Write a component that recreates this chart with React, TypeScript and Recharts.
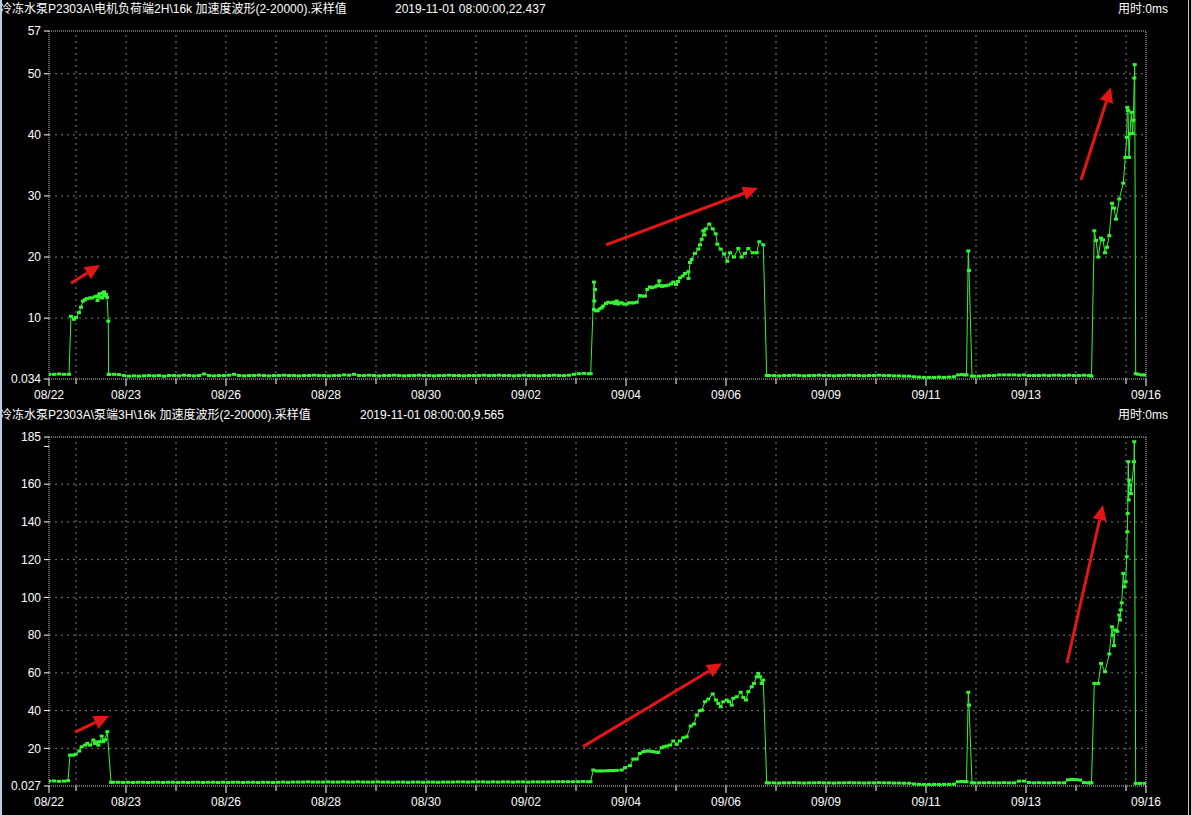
import { LineChart, Line, XAxis, YAxis, ReferenceLine } from 'recharts'

type Pt = [number, number]

// x = sample position along the trend axis (0 = start 08/22, 1097 = end 09/16)
const xLabelTicks = [0, 77, 177, 277, 377, 477, 577, 677, 777, 877, 977, 1097]
const xLabels = ['08/22', '08/23', '08/26', '08/28', '08/30', '09/02', '09/04', '09/06', '09/09', '09/11', '09/13', '09/16']
const xMinorTicks = [27, 127, 227, 327, 427, 527, 627, 727, 827, 927, 1027, 1077]

// ---- top: 电机负荷端2H
const motorYTicks = [0.034, 10, 20, 30, 40, 50, 57]
const motorGrid = [10, 20, 30, 40, 50]

const motorQuietA: Pt[] = [[0, 0.8], [5, 0.8], [10, 0.85], [15, 0.8], [20, 0.8]]
const motorRiseA: Pt[] = [
  [22, 10.3], [25, 9.8], [27, 10.1], [30, 10.9], [32, 11.8], [34, 12.8], [36, 13.0], [38, 13.2],
  [41, 13.3], [43, 13.3], [46, 13.5], [48, 13.6], [48.5, 12.9], [50, 13.8], [51, 14.0], [52, 13.4],
  [53, 13.3], [54, 14.1], [55, 14.3], [56, 13.7], [57, 13.9], [58, 13.4], [59.3, 9.5], [59.6, 0.8],
]
const motorQuietB: Pt[] = [
  [60, 0.8], [65, 0.8], [70, 0.75], [75, 0.6], [80, 0.5], [85, 0.55], [90, 0.5], [95, 0.55],
  [100, 0.6], [105, 0.55], [110, 0.6], [115, 0.5], [120, 0.6], [125, 0.6], [130, 0.55], [135, 0.65],
  [140, 0.6], [145, 0.55], [150, 0.6], [155, 0.85], [160, 0.6], [165, 0.55], [170, 0.6], [175, 0.6],
  [180, 0.65], [185, 0.8], [190, 0.6], [195, 0.55], [200, 0.6], [205, 0.6], [210, 0.65], [215, 0.6],
  [220, 0.55], [225, 0.6], [230, 0.6], [235, 0.65], [240, 0.6], [245, 0.6], [250, 0.55], [255, 0.6],
  [260, 0.6], [265, 0.65], [270, 0.6], [275, 0.6], [280, 0.55], [285, 0.6], [290, 0.6], [295, 0.7],
  [300, 0.65], [305, 0.8], [310, 0.6], [315, 0.6], [320, 0.65], [325, 0.6], [330, 0.55], [335, 0.6],
  [340, 0.6], [345, 0.65], [350, 0.6], [355, 0.55], [360, 0.6], [365, 0.6], [370, 0.65], [375, 0.6],
  [380, 0.6], [385, 0.55], [390, 0.6], [395, 0.6], [400, 0.65], [405, 0.6], [410, 0.6], [415, 0.55],
  [420, 0.6], [425, 0.6], [430, 0.6], [435, 0.65], [440, 0.6], [445, 0.6], [450, 0.65], [455, 0.6],
  [460, 0.6], [465, 0.55], [470, 0.6], [475, 0.65], [480, 0.6], [485, 0.6], [490, 0.55], [495, 0.6],
  [500, 0.6], [505, 0.65], [510, 0.6], [515, 0.6], [520, 0.65], [525, 0.8], [530, 0.9], [535, 0.95],
  [540, 0.9],
]
const motorRiseB: Pt[] = [
  [541.7, 0.9], [545, 15.9], [546, 14.7], [545.3, 12.8], [545, 11.4], [547, 11.2], [548.7, 11.2],
  [550.5, 11.5], [552.7, 11.7], [554.3, 12.0], [557, 12.4], [559.3, 12.6], [562, 12.5], [564.3, 12.6],
  [566, 12.4], [567.7, 12.8], [569.3, 12.3], [571, 12.5], [572.7, 12.5], [575, 12.3], [577.7, 12.3],
  [580, 12.5], [582.7, 12.5], [585, 12.5], [587.7, 12.6], [591, 13.7], [593, 13.6], [596, 13.6],
  [598.3, 14.7], [601, 15.1], [603, 15.0], [606, 15.1], [608, 15.3], [610.3, 16.1], [611, 15.3],
  [613, 15.2], [615, 15.3], [617, 15.3], [619.3, 15.4], [622, 15.6], [624.3, 15.9], [627, 15.5],
  [629, 16.0], [631, 16.6], [633.7, 16.9], [636, 17.3], [639.3, 17.6], [639.5, 16.5], [641, 19.1],
  [642.7, 19.6], [646, 20.6], [649.3, 21.3], [651, 22.0], [652.7, 22.9], [654.3, 24.3], [655.5, 23.6],
  [656.7, 24.6], [660.3, 25.4], [663.7, 24.6], [666.7, 23.8], [668.3, 22.1], [671.7, 21.3], [675, 20.5],
  [678.3, 19.3], [681, 20.7], [685, 20.0], [689.3, 21.4], [692.7, 20.0], [696, 20.6], [699.3, 21.4],
  [703.7, 20.7], [707.7, 20.7], [710.3, 22.5], [714.3, 22.0], [717.7, 0.6],
]
const motorQuietC: Pt[] = [
  [720, 0.6], [725, 0.6], [730, 0.55], [735, 0.6], [740, 0.6], [745, 0.65], [750, 0.6], [755, 0.55],
  [760, 0.6], [765, 0.6], [770, 0.65], [775, 0.6], [780, 0.6], [785, 0.55], [790, 0.6], [795, 0.6],
  [800, 0.65], [805, 0.6], [810, 0.6], [815, 0.55], [820, 0.6], [825, 0.6], [830, 0.65], [835, 0.6],
  [840, 0.6], [845, 0.55], [850, 0.55], [855, 0.5], [860, 0.5], [865, 0.4], [870, 0.35], [875, 0.3],
  [880, 0.3], [885, 0.3], [890, 0.35], [895, 0.3], [900, 0.35], [905, 0.4], [909, 0.7], [913, 0.75],
  [915.5, 0.7],
]
const motorSpike: Pt[] = [[917.5, 0.7], [919.3, 21.0], [920, 17.8], [923, 0.5]]
const motorQuietD: Pt[] = [
  [925, 0.5], [930, 0.5], [935, 0.55], [940, 0.6], [945, 0.6], [950, 0.7], [955, 0.7], [960, 0.7],
  [965, 0.7], [970, 0.65], [975, 0.7], [980, 0.6], [985, 0.6], [990, 0.6], [995, 0.65], [1000, 0.6],
  [1005, 0.65], [1010, 0.65], [1015, 0.6], [1020, 0.65], [1025, 0.6], [1030, 0.6], [1035, 0.65],
  [1040, 0.6],
]
const motorRiseC: Pt[] = [
  [1042.5, 0.5], [1045.3, 24.3], [1047, 22.7], [1049.3, 20.0], [1052, 23.1], [1054, 22.8], [1056, 20.7],
  [1058, 21.6], [1060.3, 23.5], [1063, 28.8], [1065, 28.0], [1067, 26.2], [1070.3, 29.5], [1074.3, 32.1],
  [1076.3, 36.3], [1077.7, 39.6], [1078.3, 44.5], [1079, 44.0], [1080, 36.3], [1081, 40.2], [1082.3, 43.7],
  [1083.7, 40.2], [1084.3, 42.4], [1085.3, 49.3], [1085.7, 51.5], [1086.7, 0.9], [1089.3, 0.8],
  [1093, 0.7], [1096, 0.7],
]
// arrows: [x1, y1, x2, y2] in axis units
const motorArrows = [[22, 15.7, 51, 18.7], [557, 22.0, 709, 31.3], [1032, 32.6, 1062, 47.8]]

// ---- bottom: 泵端3H
const pumpYTicks = [0.027, 20, 40, 60, 80, 100, 120, 140, 160, 180, 185]
const pumpGrid = [20, 40, 60, 80, 100, 120, 140, 160]

const pumpQuietA: Pt[] = [[0, 2.6], [5, 2.7], [10, 2.5], [15, 2.6], [19, 2.8]]
const pumpRiseA: Pt[] = [
  [21, 16.4], [24.3, 16.4], [26.7, 16.9], [30.3, 18.6], [32.7, 20.8], [36, 21.7], [38.3, 22.6], [41, 21.7],
  [44.3, 24.4], [46, 22.6], [47.7, 23.4], [49.3, 21.7], [51, 23.5], [52.7, 26.5], [54.3, 23.5], [56, 24.5],
  [58.3, 28.8], [62, 2.0],
]
const pumpQuietB: Pt[] = [
  [64, 2.0], [69, 2.0], [74, 1.9], [79, 2.0], [84, 1.9], [89, 2.0], [94, 2.0], [99, 1.9], [104, 2.0],
  [109, 2.0], [114, 1.9], [119, 2.0], [124, 2.0], [129, 1.9], [134, 2.0], [139, 1.9], [144, 2.0],
  [149, 2.0], [154, 1.9], [159, 2.0], [164, 2.0], [169, 1.9], [174, 2.0], [179, 1.9], [184, 2.0],
  [189, 2.0], [194, 1.9], [199, 2.0], [204, 2.0], [209, 1.9], [214, 2.0], [219, 2.0], [224, 1.9],
  [229, 2.0], [234, 2.1], [239, 2.0], [244, 2.1], [249, 2.1], [254, 2.1], [259, 2.2], [264, 2.1],
  [269, 2.1], [274, 2.1], [279, 2.2], [284, 2.1], [289, 2.1], [294, 2.2], [299, 2.1], [304, 2.1],
  [309, 2.2], [314, 2.1], [319, 2.1], [324, 2.1], [329, 2.2], [334, 2.1], [339, 2.1], [344, 2.0],
  [349, 2.1], [354, 2.1], [359, 2.0], [364, 2.1], [369, 2.1], [374, 2.0], [379, 2.1], [384, 2.1],
  [389, 2.0], [394, 2.1], [399, 2.1], [404, 2.1], [409, 2.2], [414, 2.2], [419, 2.1], [424, 2.2],
  [429, 2.2], [434, 2.2], [439, 2.1], [444, 2.2], [449, 2.1], [454, 2.2], [459, 2.2], [464, 2.1],
  [469, 2.2], [474, 2.2], [479, 2.1], [484, 2.2], [489, 2.2], [494, 2.2], [499, 2.2], [504, 2.3],
  [509, 2.3], [514, 2.3], [519, 2.3], [524, 2.3], [529, 2.3], [534, 2.4], [539, 2.3], [541.5, 2.3],
]
const pumpRiseB: Pt[] = [
  [544.3, 8.5], [547.7, 8.0], [551, 8.0], [554, 8.0], [558, 8.1], [561, 8.2], [564, 8.2], [567.7, 8.3],
  [572.7, 8.5], [576, 9.7], [581, 10.8], [584.3, 14.3], [587.7, 14.3], [591, 17.3], [594.3, 18.2],
  [596.5, 18.5], [599.3, 18.6], [602, 18.4], [604.3, 18.2], [607, 18.0], [609.3, 17.8], [612.7, 20.3],
  [615, 20.8], [617.7, 21.2], [621, 21.7], [624.3, 23.9], [627.7, 22.1], [631, 23.9], [634.3, 25.6],
  [637.7, 26.1], [641.7, 31.8], [645, 32.9], [647.7, 37.6], [651, 39.9], [653, 40.2], [656, 44.7],
  [659.3, 46.1], [663.7, 48.8], [667, 45.6], [669.3, 43.8], [671.7, 42.0], [674.3, 44.7], [677.7, 45.6],
  [680, 44.7], [682.7, 42.9], [684.3, 46.5], [687.7, 47.3], [691.7, 49.7], [694.3, 47.0], [697, 45.6],
  [699.3, 50.0], [702.7, 52.6], [705, 54.4], [707.7, 57.9], [709.3, 59.7], [711, 57.9], [712.7, 54.4],
  [714.3, 56.2], [717.7, 1.7],
]
const pumpQuietC: Pt[] = [
  [720, 1.7], [725, 1.7], [730, 1.6], [735, 1.7], [740, 1.7], [745, 1.8], [750, 1.7], [755, 1.6],
  [760, 1.7], [765, 1.7], [770, 1.8], [775, 1.7], [780, 1.7], [785, 1.6], [790, 1.7], [795, 1.7],
  [800, 1.8], [805, 1.7], [810, 1.7], [815, 1.6], [820, 1.7], [825, 1.7], [830, 1.8], [835, 1.7],
  [840, 1.7], [845, 1.6], [850, 1.6], [855, 1.5], [860, 1.5], [865, 1.1], [870, 0.9], [875, 0.8],
  [880, 0.8], [885, 0.9], [890, 0.8], [895, 0.9], [900, 0.9], [905, 1.0], [909, 2.3], [913, 2.4],
  [915.5, 2.3],
]
const pumpSpike: Pt[] = [[917.5, 2.3], [919.3, 49.7], [920, 42.9], [923, 1.7]]
const pumpQuietD: Pt[] = [
  [925, 1.7], [930, 1.7], [935, 1.7], [940, 1.8], [945, 1.7], [950, 1.7], [955, 1.8], [960, 1.7],
  [965, 1.7], [970, 2.6], [975, 2.6], [980, 1.9], [985, 1.7], [990, 1.8], [995, 1.7], [1000, 1.7],
  [1005, 1.8], [1010, 1.7], [1015, 1.7], [1019, 3.3], [1023, 3.5], [1027, 3.4], [1031, 3.2],
  [1035, 1.8], [1039, 1.7], [1041, 1.7],
]
const pumpRiseC: Pt[] = [
  [1042.5, 1.7], [1045.3, 54.4], [1049.3, 54.4], [1052, 65.0], [1056, 60.6], [1060.3, 70.0], [1063, 84.4],
  [1063.7, 80.0], [1065, 74.4], [1066, 82.7], [1068.3, 82.0], [1070.3, 90.6], [1071, 88.0], [1071.7, 93.3],
  [1072.7, 97.1], [1074.3, 112.7], [1075.3, 105.6], [1076.7, 108.3], [1077.7, 121.5], [1078.3, 134.8],
  [1078.7, 144.5], [1079.3, 171.9], [1079.7, 151.6], [1080.3, 162.2], [1081, 159.5], [1082, 155.0],
  [1085, 171.9], [1085.3, 182.5], [1086.7, 1.4], [1091, 1.4], [1096, 1.4],
]
const pumpArrows = [[26, 28.6, 60, 37.1], [534, 20.9, 673, 65.1], [1018, 65.2, 1054, 148.9]]

const motorTitle = '冷冻水泵P2303A\\电机负荷端2H\\16k 加速度波形(2-20000).采样值'
const motorStamp = '2019-11-01 08:00:00,22.437'
const pumpTitle = '冷冻水泵P2303A\\泵端3H\\16k 加速度波形(2-20000).采样值'
const pumpStamp = '2019-11-01 08:00:00,9.565'

const GREEN = '#33f533'
const RED = '#e31616'
const GRID = '#7c7c7c'
const BORDER = '#d4d4d4'
const FONT = '"Liberation Sans", "Noto Sans CJK SC", sans-serif'

const toRows = (parts: Pt[][]) => parts.flat().map(([x, v]) => ({ x, v }))
const labelAt = new Map(xLabelTicks.map((t, i) => [t, xLabels[i]]))
const allXTicks = [...xLabelTicks, ...xMinorTicks].sort((a, b) => a - b)

function XTick(props: any) {
  const { x, y, payload } = props
  const label = labelAt.get(payload.value)
  return (
    <g>
      <line x1={x} y1={y} x2={x} y2={y + (label ? 7 : 5)} stroke="#fff" />
      {label && (
        <text x={x} y={y + 20} textAnchor="middle" fill="#fff" fontSize={12} fontFamily={FONT}>
          {label}
        </text>
      )}
    </g>
  )
}

function Arrow(p: any) {
  const { x1, y1, x2, y2 } = p
  const a = Math.atan2(y2 - y1, x2 - x1)
  const bx = x2 - 15 * Math.cos(a)
  const by = y2 - 15 * Math.sin(a)
  const nx = -Math.sin(a) * 7
  const ny = Math.cos(a) * 7
  return (
    <g>
      <line x1={x1} y1={y1} x2={bx} y2={by} stroke={RED} strokeWidth={3} />
      <polygon points={`${x2},${y2} ${bx + nx},${by + ny} ${bx - nx},${by - ny}`} fill={RED} />
    </g>
  )
}

// square sample markers like the original trend viewer
const squareDot = (p: any) => (
  <rect key={`d${p.index}`} x={p.cx - 2} y={p.cy - 1.5} width={4} height={3} fill={GREEN} />
)

interface PanelProps {
  top: number
  height: number
  axisH: number
  title: string
  stamp: string
  stampX: number
  rows: { x: number; v: number }[]
  yTicks: number[]
  grid: number[]
  arrows: number[][]
  hideTick?: number
}

function Panel({ top, height, axisH, title, stamp, stampX, rows, yTicks, grid, arrows, hideTick }: PanelProps) {
  const yMin = yTicks[0]
  const yMax = yTicks[yTicks.length - 1]
  const textStyle = { position: 'absolute' as const, top: 1, color: '#fff', fontSize: 12, lineHeight: '16px', fontFamily: FONT, whiteSpace: 'nowrap' as const }
  return (
    <div style={{ position: 'absolute', left: 0, top, width: 1191, height }}>
      <LineChart
        width={1191}
        height={height}
        data={rows}
        margin={{ top: 31, right: 45, bottom: 0, left: 0 }}
        style={{ fontFamily: FONT }}
      >
        <XAxis
          type="number"
          dataKey="x"
          domain={[0, 1097]}
          ticks={allXTicks}
          interval={0}
          allowDataOverflow
          height={axisH}
          tickSize={0}
          tickMargin={0}
          tick={(p: any) => <XTick {...p} />}
          axisLine={{ stroke: BORDER, strokeDasharray: '1 1' }}
        />
        <YAxis
          type="number"
          domain={[yMin, yMax]}
          ticks={yTicks}
          interval={0}
          allowDataOverflow
          width={49}
          tickSize={5}
          tickMargin={3}
          tick={{ fill: '#fff', fontSize: 12, fontFamily: FONT }}
          tickLine={{ stroke: '#fff' }}
          tickFormatter={(v: number) => (v === hideTick ? '' : String(v))}
          axisLine={{ stroke: BORDER, strokeDasharray: '1 1' }}
        />
        {grid.map((g) => (
          <ReferenceLine key={`h${g}`} y={g} stroke={GRID} strokeDasharray="2 4" />
        ))}
        {allXTicks
          .filter((t) => t > 0 && t < 1097)
          .map((t) => (
            <ReferenceLine key={`v${t}`} x={t} stroke={GRID} strokeDasharray="2 4" />
          ))}
        <ReferenceLine y={yMax} stroke={BORDER} strokeDasharray="1 1" />
        <ReferenceLine x={1097} stroke={BORDER} strokeDasharray="1 1" />
        <Line
          type="linear"
          dataKey="v"
          stroke={GREEN}
          strokeWidth={1}
          dot={squareDot}
          activeDot={false}
          isAnimationActive={false}
        />
        {arrows.map((a, i) => (
          <ReferenceLine
            key={`a${i}`}
            segment={[{ x: a[0], y: a[1] }, { x: a[2], y: a[3] }]}
            ifOverflow="visible"
            shape={(p: any) => <Arrow {...p} />}
          />
        ))}
      </LineChart>
      <div style={{ ...textStyle, left: 0 }}>{title}</div>
      <div style={{ ...textStyle, left: stampX }}>{stamp}</div>
      <div style={{ ...textStyle, right: 23 }}>用时:0ms</div>
    </div>
  )
}

export default function App() {
  return (
    <div style={{ position: 'absolute', left: 0, top: 0, width: 1191, height: 815, background: '#000', overflow: 'hidden' }}>
      <Panel
        top={0}
        height={406}
        axisH={27}
        title={motorTitle}
        stamp={motorStamp}
        stampX={395}
        rows={toRows([motorQuietA, motorRiseA, motorQuietB, motorRiseB, motorQuietC, motorSpike, motorQuietD, motorRiseC])}
        yTicks={motorYTicks}
        grid={motorGrid}
        arrows={motorArrows}
      />
      <Panel
        top={406}
        height={409}
        axisH={29}
        title={pumpTitle}
        stamp={pumpStamp}
        stampX={360}
        rows={toRows([pumpQuietA, pumpRiseA, pumpQuietB, pumpRiseB, pumpQuietC, pumpSpike, pumpQuietD, pumpRiseC])}
        yTicks={pumpYTicks}
        grid={pumpGrid}
        arrows={pumpArrows}
        hideTick={180}
      />
      <div style={{ position: 'absolute', left: 0, top: 0, width: 2, height: 815, background: '#b9cde5' }} />
      <div style={{ position: 'absolute', left: 1188, top: 0, width: 1, height: 815, background: '#c8c8c8' }} />
    </div>
  )
}
